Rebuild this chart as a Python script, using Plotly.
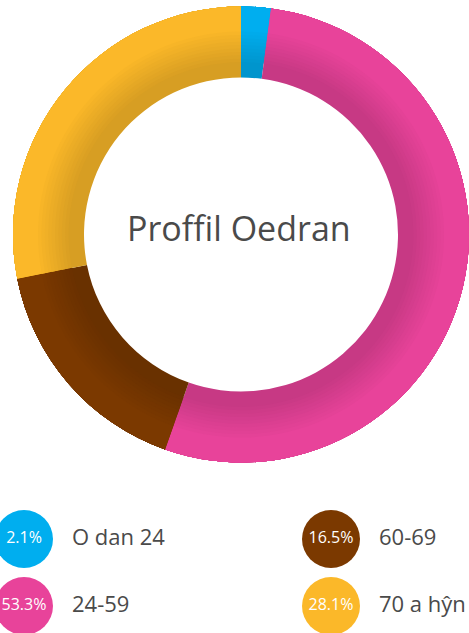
import plotly.graph_objects as go

labels = ["O dan 24", "24-59", "60-69", "70 a hŷn"]
values = [2.1, 53.3, 16.5, 28.1]
pct_text = ["2.1%", "53.3%", "16.5%", "28.1%"]
colors = ["#00aeef", "#e8439a", "#7b3900", "#fbb829"]
title_text = "Proffil Oedran"

W, H = 469, 633
cx, cy = 241, 234.5
R_out, R_in = 228, 157


def hex2rgb(h):
    h = h.lstrip("#")
    return [int(h[i:i + 2], 16) for i in (0, 2, 4)]


def shade(h, f):
    r, g, b = hex2rgb(h)
    return "rgb(%d,%d,%d)" % (r * f, g * f, b * f)


fig = go.Figure()

dom_x = [(cx - R_out) / W, (cx + R_out) / W]
dom_y = [(H - cy - R_out) / H, (H - cy + R_out) / H]

# layered rings to emulate the inner shading
N = 10
layers = [(R_in, 0.0)] + [(169 + (203 - 169) * k / N, k / N) for k in range(1, N + 1)]
for rad, t in layers:
    f = 0.86 + 0.14 * t
    fig.add_trace(go.Pie(
        values=values, labels=labels, sort=False, direction="clockwise", rotation=0,
        hole=rad / R_out, domain=dict(x=dom_x, y=dom_y),
        marker=dict(colors=[shade(c, f) for c in colors], line=dict(width=0)),
        textinfo="none", hoverinfo="skip", showlegend=False,
    ))

fig.add_annotation(x=cx - 2, y=cy - 7, xref="x", yref="y", text=title_text, showarrow=False,
                   font=dict(family="Open Sans", size=34, color="#4a4a4a"))

# legend
col_x = [24, 331]
row_y = [539, 606]
lx = [col_x[i // 2] for i in range(len(labels))]
ly = [row_y[i % 2] for i in range(len(labels))]
fig.add_trace(go.Scatter(
    x=lx, y=ly, mode="markers+text", text=pct_text, textposition="middle center",
    marker=dict(size=58, color=colors, line=dict(width=0)),
    textfont=dict(family="Open Sans", size=16, color="white"),
    hoverinfo="skip", showlegend=False, cliponaxis=False,
))
fig.add_trace(go.Scatter(
    x=[x + 48 for x in lx], y=ly, mode="text", text=labels, textposition="middle right",
    textfont=dict(family="Open Sans", size=22, color="#4a4a4a"),
    hoverinfo="skip", showlegend=False, cliponaxis=False,
))

fig.update_layout(
    width=W, height=H, margin=dict(l=0, r=0, t=0, b=0),
    paper_bgcolor="white", plot_bgcolor="white",
    xaxis=dict(range=[0, W], visible=False, fixedrange=True),
    yaxis=dict(range=[H, 0], visible=False, fixedrange=True),
    showlegend=False,
)

fig.write_html("out.html", config={"displayModeBar": False},
               post_script="document.body.style.margin='0';document.body.style.overflow='hidden';")
